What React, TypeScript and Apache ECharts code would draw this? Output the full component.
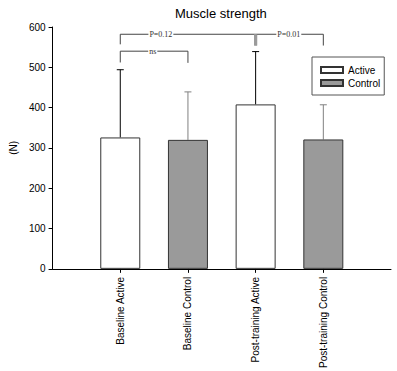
import React, { useEffect, useRef } from "react";
import * as echarts from "echarts";

const categories = ["Baseline Active", "Baseline Control", "Post-training Active", "Post-training Control"];
const groups = ["Active", "Control", "Active", "Control"];
const means = [326, 320, 408, 321];
const errTops = [494, 439, 539, 407];
const yTicks = [0, 100, 200, 300, 400, 500, 600];

// significance brackets: category positions (1-based on the padded axis), heights in N
const bracketFrom = [1, 1, 3];
const bracketTo = [2, 3, 4];
const bracketTop = [540, 582, 582];
const bracketLeftEnd = [512, 557, 554];
const bracketRightEnd = [511, 554, 554];
const bracketLabels = ["ns", "P=0.12", "P=0.01"];

export default function App() {
  const ref = useRef<HTMLDivElement>(null);
  useEffect(() => {
    if (!ref.current) return;
    document.body.style.margin = "0";
    const chart = echarts.init(ref.current, undefined, { renderer: "svg" });
    const axisCats = ["", ...categories, ""];
    const seriesFor = (g: string) => [null, ...means.map((v, i) => (groups[i] === g ? v : null)), null];
    const labelFrac = [0.48, 0.3, 0.49];
    const font = "'Liberation Sans', Arial, sans-serif";

    const dropCount: Record<number, number> = {};
    bracketFrom.forEach((f, i) => {
      dropCount[f] = (dropCount[f] || 0) + 1;
      dropCount[bracketTo[i]] = (dropCount[bracketTo[i]] || 0) + 1;
    });

    chart.setOption({
      animation: false,
      title: {
        text: "Muscle strength",
        left: 170,
        top: 2,
        textStyle: { fontFamily: font, fontSize: 13, fontWeight: "normal", color: "#000" },
      },
      legend: {
        orient: "vertical",
        left: 312,
        top: 57,
        padding: [7, 4, 6, 8],
        itemGap: 1,
        itemWidth: 22,
        itemHeight: 6,
        icon: "rect",
        borderColor: "#555",
        borderWidth: 1,
        data: ["Active", "Control"],
        textStyle: { fontFamily: font, fontSize: 10, color: "#000", lineHeight: 12 },
      },
      grid: { left: 47, right: 6, top: 27, bottom: 99 },
      xAxis: {
        type: "category",
        data: axisCats,
        boundaryGap: false,
        axisLine: { lineStyle: { color: "#000", width: 1 } },
        axisTick: {
          interval: (_i: number, v: string) => v !== "",
          length: 4,
          lineStyle: { color: "#000" },
        },
        axisLabel: {
          interval: (_i: number, v: string) => v !== "",
          rotate: 90,
          margin: 8,
          fontFamily: font,
          fontSize: 10,
          color: "#000",
        },
        splitLine: { show: false },
      },
      yAxis: {
        type: "value",
        min: yTicks[0],
        max: yTicks[yTicks.length - 1],
        interval: 100,
        name: "(N)",
        nameLocation: "middle",
        nameRotate: 90,
        nameGap: 34,
        nameTextStyle: { fontFamily: font, fontSize: 10, color: "#000" },
        axisLine: { show: true, lineStyle: { color: "#000", width: 1 } },
        axisTick: { show: true, length: 4, lineStyle: { color: "#000" } },
        axisLabel: { margin: 7, fontFamily: font, fontSize: 10, color: "#000" },
        splitLine: { show: false },
      },
      series: [
        {
          name: "Active",
          type: "bar",
          data: seriesFor("Active"),
          barWidth: 40,
          barGap: "-100%",
          itemStyle: { color: "#ffffff", borderColor: "#333", borderWidth: 1 },
        },
        {
          name: "Control",
          type: "bar",
          data: seriesFor("Control"),
          barWidth: 40,
          barGap: "-100%",
          itemStyle: { color: "#9a9a9a", borderColor: "#333", borderWidth: 1 },
        },
        {
          type: "custom",
          clip: false,
          silent: true,
          data: means.map((m, i) => [i + 1, m, errTops[i], groups[i] === "Active" ? 0 : 1]),
          renderItem: (_p: any, api: any) => {
            const x = api.value(0);
            const base = api.coord([x, api.value(1)]);
            const top = api.coord([x, api.value(2)]);
            const color = api.value(3) === 0 ? "#000" : "#808080";
            const style = { stroke: color, lineWidth: 1 };
            return {
              type: "group",
              children: [
                { type: "line", shape: { x1: base[0], y1: base[1], x2: top[0], y2: top[1] }, style },
                { type: "line", shape: { x1: top[0] - 3.5, y1: top[1], x2: top[0] + 3.5, y2: top[1] }, style },
              ],
            };
          },
        },
        {
          type: "custom",
          clip: false,
          silent: true,
          data: bracketFrom.map((f, i) => [f, bracketTo[i], bracketTop[i], bracketLeftEnd[i], bracketRightEnd[i], i]),
          renderItem: (_p: any, api: any) => {
            const f = api.value(0);
            const t = api.value(1);
            const idx = api.value(5);
            const tl = api.coord([f, api.value(2)]);
            const tr = api.coord([t, api.value(2)]);
            const bl = api.coord([f, api.value(3)]);
            const br = api.coord([t, api.value(4)]);
            const c = "#444";
            const dropStyle = (x: number) =>
              dropCount[x] > 1 && x !== 1 ? { stroke: "#9a9a9a", lineWidth: 3 } : { stroke: c, lineWidth: 1 };
            const lx = tl[0] + (tr[0] - tl[0]) * labelFrac[idx];
            return {
              type: "group",
              children: [
                { type: "line", shape: { x1: tl[0], y1: tl[1], x2: tr[0], y2: tr[1] }, style: { stroke: c, lineWidth: 1 } },
                { type: "line", shape: { x1: bl[0], y1: bl[1], x2: tl[0], y2: tl[1] }, style: dropStyle(f) },
                { type: "line", shape: { x1: br[0], y1: br[1], x2: tr[0], y2: tr[1] }, style: dropStyle(t) },
                {
                  type: "text",
                  x: lx,
                  y: tl[1],
                  style: {
                    text: bracketLabels[idx],
                    fontFamily: "'Liberation Serif', 'Times New Roman', serif",
                    fontSize: 8,
                    fill: "#333",
                    align: "center",
                    verticalAlign: "middle",
                    backgroundColor: "#fff",
                    padding: [0, 1],
                  },
                },
              ],
            };
          },
        },
      ],
    });
    return () => chart.dispose();
  }, []);
  return <div ref={ref} style={{ width: 397, height: 371 }} />;
}
